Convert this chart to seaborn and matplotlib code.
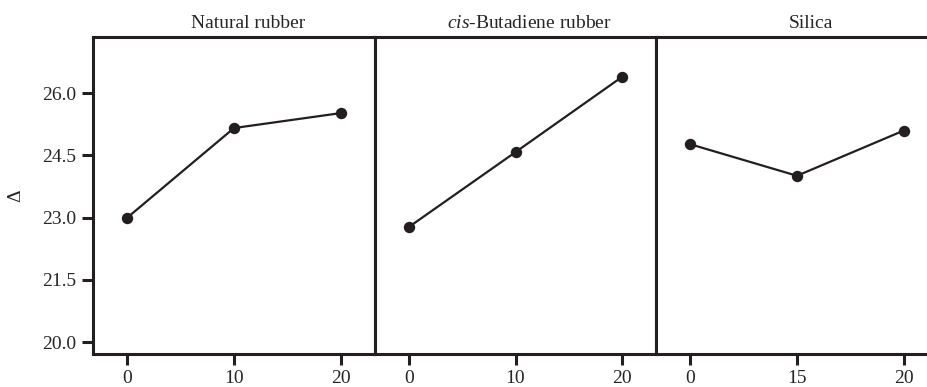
import pandas as pd
import matplotlib
matplotlib.use("Agg")
import matplotlib.pyplot as plt
import seaborn as sns

# 数据
panel_titles = ["Natural rubber", r"$\it{cis}$-Butadiene rubber", "Silica"]
nr_levels = ["0", "10", "20"]
br_levels = ["0", "10", "20"]
silica_levels = ["0", "15", "20"]
nr_values = [23.00, 25.16, 25.52]
br_values = [22.78, 24.58, 26.39]
silica_values = [24.77, 24.01, 25.10]
y_ticks = [20.0, 21.5, 23.0, 24.5, 26.0]

sns.set_style("white")
plt.rcParams['font.family'] = ['Liberation Serif', 'DejaVu Serif']
plt.rcParams['mathtext.fontset'] = 'custom'
plt.rcParams['mathtext.rm'] = 'Liberation Serif'
plt.rcParams['mathtext.it'] = 'Liberation Serif:italic'

ink = "#231f20"
W, H = 928, 387
fig = plt.figure(figsize=(W / 100, H / 100), dpi=100)

# 面板位置 (像素)
bottom, top = 354.3, 36.7
lefts = [93, 375, 656]
widths = [282, 281, 282]

panels = [
    (nr_levels, nr_values),
    (br_levels, br_values),
    (silica_levels, silica_values),
]

for i, ((levels, values), title) in enumerate(zip(panels, panel_titles)):
    ax = fig.add_axes([lefts[i] / W, (H - bottom) / H, widths[i] / W, (bottom - top) / H])
    df = pd.DataFrame({"level": levels, "delta": values})
    sns.pointplot(data=df, x="level", y="delta", color=ink, markers="o",
                  errorbar=None, markersize=7, linewidth=1.6, ax=ax)
    ax.set_xlim(-0.32, 2.32)
    ax.set_ylim(19.71, 27.36)
    ax.set_xlabel("")
    ax.set_ylabel("")
    for s in ax.spines.values():
        s.set_color(ink)
        s.set_linewidth(2.2)
    ax.tick_params(axis="x", direction="out", length=8, width=2.2, color=ink,
                   labelsize=14, pad=3, bottom=True)
    if i == 0:
        ax.set_yticks(y_ticks)
        ax.set_yticklabels([f"{t:.1f}" for t in y_ticks])
        ax.tick_params(axis="y", direction="out", length=8, width=2.2, color=ink,
                       labelsize=14, pad=4, left=True)
        ax.set_ylabel("Δ", fontsize=14)
        ax.yaxis.set_label_coords(-0.245, 0.5)
    else:
        ax.set_yticks([])
    ax.set_title(title, fontsize=14, x=0.55, pad=6)

fig.savefig("out.png", dpi=100)
